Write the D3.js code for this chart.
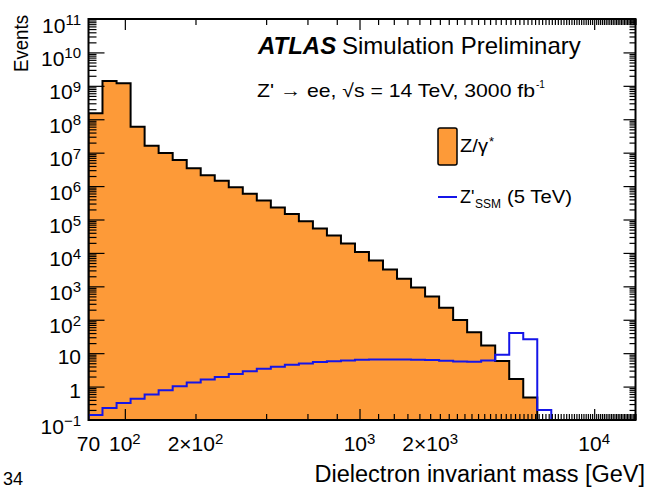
<!DOCTYPE html>
<html><head><meta charset="utf-8">
<script src="https://cdn.jsdelivr.net/npm/d3@7"></script>
<style>
body{margin:0;background:#fff}
svg{display:block}
text{font-family:"Liberation Sans",Arial,Helvetica,sans-serif;fill:#000}
</style>
</head><body>
<svg id="c" width="650" height="489"></svg>
<script>
// ---- data ----
const binEdges = [70,80.3,92.2,105.8,121.4,139.3,159.9,183.5,210.5,241.6,277.2,318.1,365.0,418.9,480.7,551.6,633.0,726.3,833.5,956.4,1097,1259,1445,1658,1903,2184,2506,2875,3299,3786,4345,4986,5721,6565,7534,8645,9920,11384,13063,15000];
const dyEvents = [1.5e8,1.4e9,1.2e9,6.0e7,1.6e7,9.8e6,6.0e6,3.4e6,2.1e6,1.45e6,9.3e5,5.9e5,3.7e5,2.3e5,1.46e5,8.9e4,5.4e4,3.3e4,1.9e4,1.07e4,5.9e3,3.2e3,1.7e3,9.3e2,5.0e2,2.3e2,98,42,17,5.8,1.7,0.47,0,0,0,0,0,0,0];
const zssmEvents = [0.14,0.23,0.32,0.43,0.58,0.78,1.02,1.32,1.62,1.95,2.4,2.9,3.4,3.9,4.5,4.9,5.4,5.75,6.0,6.3,6.45,6.45,6.45,6.3,6.2,5.9,5.6,5.5,6.0,8.9,40,26,0.2,0,0,0,0,0,0];
const yTickValues = [0.1,1,10,1e2,1e3,1e4,1e5,1e6,1e7,1e8,1e9,1e10,1e11];
const yTickLabels = ["10^{\u22121}","1","10","10^{2}","10^{3}","10^{4}","10^{5}","10^{6}","10^{7}","10^{8}","10^{9}","10^{10}","10^{11}"];
const xTickValues = [70,100,200,1000,2000,10000];
const xTickLabels = ["70","10^{2}","2\u00d710^{2}","10^{3}","2\u00d710^{3}","10^{4}"];
const xMajor = [100,1000,10000];

// ---- layout ----
const L = 88.5, R = 635.5, T = 19, B = 420;
const ORANGE = "#fd9a38", BLUE = "#1515e8";
const svg = d3.select("#c");
const x = d3.scaleLog().domain([70,15000]).range([L,R]);
const y = d3.scaleLog().domain([0.1,1e11]).range([B,T]).clamp(true);
const yv = v => v > 0 ? y(v) : B;

svg.append("defs").append("clipPath").attr("id","clip")
  .append("rect").attr("x",L).attr("y",T).attr("width",R-L).attr("height",B-T);

function stepPoints(vals){
  const pts = [[x(binEdges[0]), B]];
  vals.forEach((v,i)=>{ pts.push([x(binEdges[i]), yv(v)]); pts.push([x(binEdges[i+1]), yv(v)]); });
  pts.push([x(binEdges[binEdges.length-1]), B]);
  return pts;
}
const line = d3.line();
const g = svg.append("g").attr("clip-path","url(#clip)");
const dyPts = stepPoints(dyEvents);
g.append("path").attr("d", line(dyPts)+"Z").attr("fill",ORANGE).attr("stroke","none");
g.append("path").attr("d", line(dyPts)).attr("fill","none").attr("stroke","#000").attr("stroke-width",2);
g.append("path").attr("d", line(stepPoints(zssmEvents))).attr("fill","none").attr("stroke",BLUE).attr("stroke-width",2);

// ---- ticks ----
const yAll = y.ticks(200).filter(v => v>=0.1 && v<=1e11);
const yMin = yAll.filter(v => !yTickValues.some(t => Math.abs(t-v)/t < 1e-6));
const xAll = x.ticks(100);
const xMin = xAll.filter(v => !xMajor.some(t => Math.abs(t-v)/t < 1e-6) && v>70);
function tickAxis(axis, tr){
  const a = svg.append("g").attr("transform",tr).call(axis);
  a.select(".domain").remove();
  a.selectAll("text").remove();
  a.selectAll("line").attr("stroke","#000").attr("stroke-width",1.2);
}
tickAxis(d3.axisLeft(y).tickValues(yTickValues.filter(v=>v>0.1&&v<1e11)).tickSize(-16).tickFormat(""), `translate(${L},0)`);
tickAxis(d3.axisLeft(y).tickValues(yMin).tickSize(-8).tickFormat(""), `translate(${L},0)`);
tickAxis(d3.axisRight(y).tickValues(yTickValues.filter(v=>v>0.1&&v<1e11)).tickSize(-12).tickFormat(""), `translate(${R},0)`);
tickAxis(d3.axisRight(y).tickValues(yMin).tickSize(-6).tickFormat(""), `translate(${R},0)`);
tickAxis(d3.axisBottom(x).tickValues(xMajor).tickSize(-11).tickFormat(""), `translate(0,${B})`);
tickAxis(d3.axisBottom(x).tickValues(xMin).tickSize(-6).tickFormat(""), `translate(0,${B})`);
tickAxis(d3.axisTop(x).tickValues(xMajor).tickSize(-11).tickFormat(""), `translate(0,${T})`);
tickAxis(d3.axisTop(x).tickValues(xMin).tickSize(-6).tickFormat(""), `translate(0,${T})`);

svg.append("rect").attr("x",L).attr("y",T).attr("width",R-L).attr("height",B-T)
  .attr("fill","none").attr("stroke","#000").attr("stroke-width",2);

// ---- labels ----
function rich(sel, str, fs, efs, rise){
  const parts = str.split(/\^\{([^}]*)\}/);
  let raised = false;
  parts.forEach((p,i)=>{
    if(!p) return;
    const t = sel.append("tspan").text(p);
    if(i%2===1){ t.attr("font-size",efs).attr("dy",-rise); raised = true; }
    else { t.attr("font-size",fs); if(raised){ t.attr("dy",rise); raised=false; } }
  });
}
yTickValues.forEach((v,i)=>{
  const s = yTickLabels[i];
  const t = svg.append("text").attr("x",81).attr("y", y(v) + (s.includes("^")?13.5:11))
    .attr("text-anchor","end").attr("font-size",21);
  rich(t, s, 21, 15, 7.5);
});
xTickValues.forEach((v,i)=>{
  const t = svg.append("text").attr("x",x(v)).attr("y",451).attr("text-anchor","middle").attr("font-size",21);
  rich(t, xTickLabels[i], 21, 15, 7.5);
});

svg.append("text").attr("transform","translate(28,15) rotate(-90)").attr("text-anchor","end")
  .attr("font-size",20).attr("textLength",57).attr("lengthAdjust","spacingAndGlyphs").text("Events");
svg.append("text").attr("x",645).attr("y",482).attr("text-anchor","end").attr("font-size",23.5)
  .text("Dielectron invariant mass [GeV]");

svg.append("text").attr("x",258).attr("y",54).attr("font-size",24).attr("font-weight","bold")
  .attr("font-style","italic").text("ATLAS");
svg.append("text").attr("x",342).attr("y",54).attr("font-size",24).text("Simulation Preliminary");
svg.append("text").attr("x",257).attr("y",97).attr("font-size",19)
  .attr("textLength",278).attr("lengthAdjust","spacingAndGlyphs")
  .text("Z' \u2192 ee, \u221As = 14 TeV, 3000 fb");
svg.append("text").attr("x",536).attr("y",88).attr("font-size",10).text("-1");

// legend
svg.append("rect").attr("x",438).attr("y",128).attr("width",19).attr("height",37).attr("rx",2)
  .attr("fill",ORANGE).attr("stroke","#000").attr("stroke-width",1.5);
svg.append("text").attr("x",460).attr("y",152).attr("font-size",19)
  .attr("textLength",28).attr("lengthAdjust","spacingAndGlyphs").text("Z/\u03b3");
svg.append("text").attr("x",489).attr("y",146).attr("font-size",13).text("*");
svg.append("line").attr("x1",438).attr("x2",457).attr("y1",197).attr("y2",197)
  .attr("stroke",BLUE).attr("stroke-width",2);
svg.append("text").attr("x",460).attr("y",203).attr("font-size",18).text("Z'");
svg.append("text").attr("x",475).attr("y",208).attr("font-size",12).text("SSM");
svg.append("text").attr("x",507).attr("y",203).attr("font-size",18)
  .attr("textLength",65).attr("lengthAdjust","spacingAndGlyphs").text("(5 TeV)");

svg.append("text").attr("x",3).attr("y",485).attr("font-size",18).text("34");
</script>
</body></html>
